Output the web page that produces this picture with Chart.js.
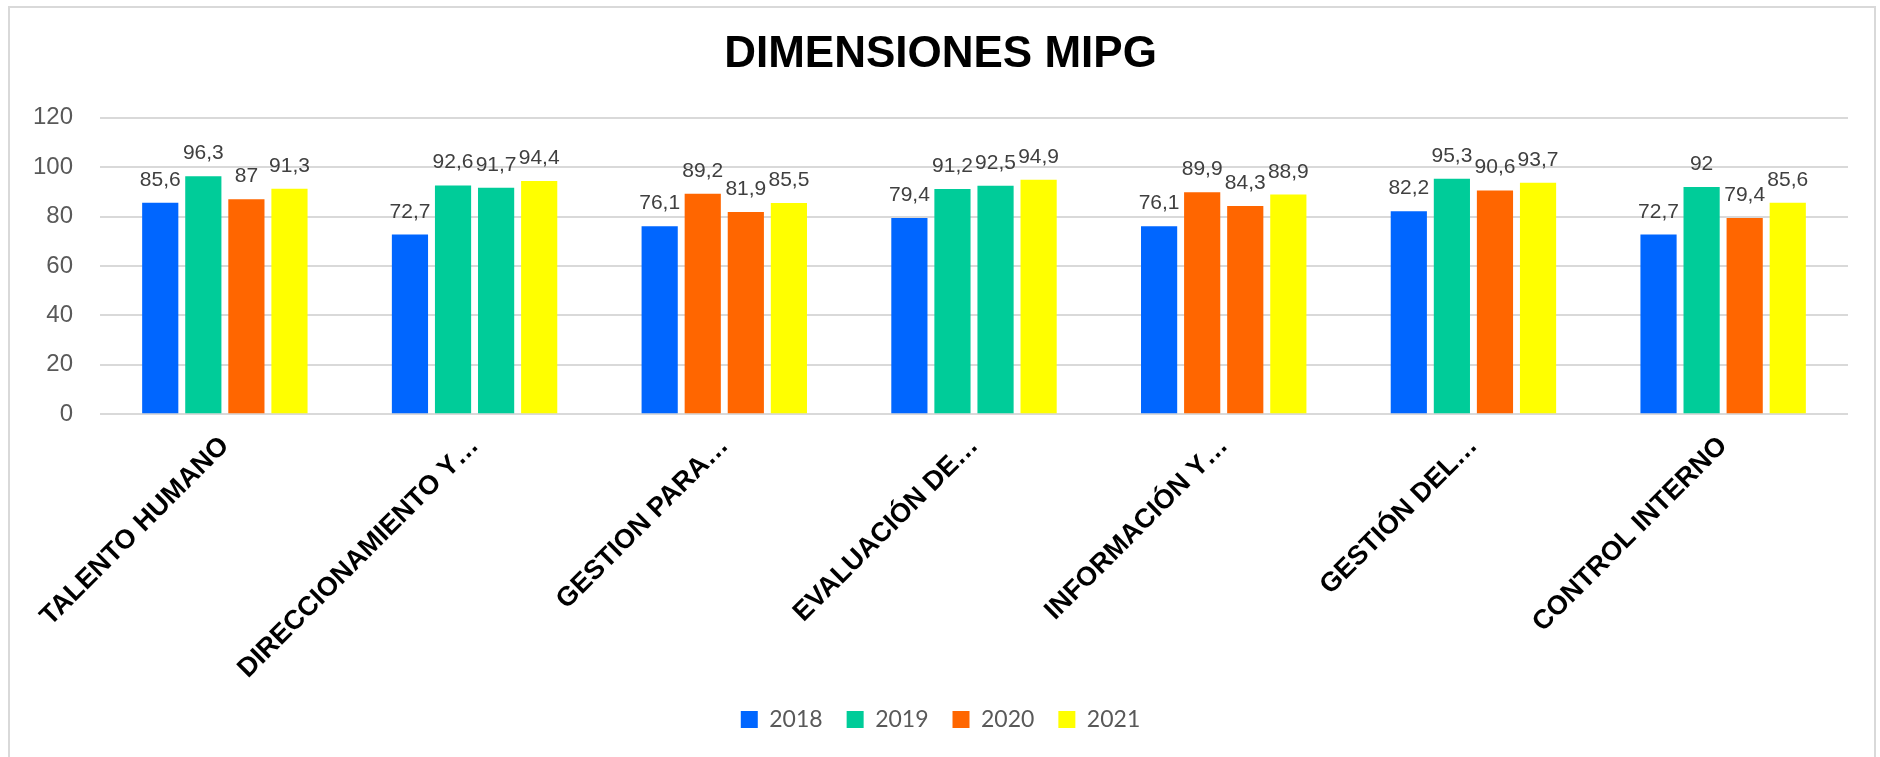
<!DOCTYPE html>
<html>
<head>
<meta charset="utf-8">
<title>DIMENSIONES MIPG</title>
<script src="https://cdn.jsdelivr.net/npm/chart.js@4"></script>
<style>
  body { margin: 0; background: #fff; }
  canvas { display: block; }
</style>
</head>
<body>
<canvas id="myChart" width="1880" height="757"></canvas>
<script>
'use strict';

// data
const categories = [
  'TALENTO HUMANO',
  'DIRECCIONAMIENTO Y…',
  'GESTION PARA…',
  'EVALUACIÓN DE…',
  'INFORMACIÓN Y…',
  'GESTIÓN DEL…',
  'CONTROL INTERNO'
];
const years = ['2018', '2019', '2020', '2021'];
const values2018 = [85.6, 72.7, 76.1, 79.4, 76.1, 82.2, 72.7];
const values2019 = [96.3, 92.6, 89.2, 91.2, 89.9, 95.3, 92];
const values2020 = [87, 91.7, 81.9, 92.5, 84.3, 90.6, 79.4];
const values2021 = [91.3, 94.4, 85.5, 94.9, 88.9, 93.7, 85.6];
const yTicks = [0, 20, 40, 60, 80, 100, 120];

const BLUE = '#0066FF';
const GREEN = '#00CC99';
const ORANGE = '#FF6600';
const YELLOW = '#FFFF00';

// the original colours some bars differently from their legend swatch
const colors2018 = [BLUE, BLUE, BLUE, BLUE, BLUE, BLUE, BLUE];
const colors2019 = [GREEN, GREEN, ORANGE, GREEN, ORANGE, GREEN, GREEN];
const colors2020 = [ORANGE, GREEN, ORANGE, GREEN, ORANGE, ORANGE, ORANGE];
const colors2021 = [YELLOW, YELLOW, YELLOW, YELLOW, YELLOW, YELLOW, YELLOW];
const legendColors = [BLUE, GREEN, ORANGE, YELLOW];

const allValues = [values2018, values2019, values2020, values2021];
const allColors = [colors2018, colors2019, colors2020, colors2021];

const datasets = [];
for (let i = 0; i < years.length; i++) {
  datasets.push({
    label: years[i],
    data: allValues[i],
    backgroundColor: allColors[i],
    categoryPercentage: 0.69,
    barPercentage: 0.84
  });
}

// outer frame
const framePlugin = {
  id: 'frame',
  beforeDraw(chart) {
    const ctx = chart.ctx;
    ctx.save();
    ctx.strokeStyle = '#d9d9d9';
    ctx.lineWidth = 2;
    ctx.strokeRect(9, 7, 1866, 760);
    ctx.restore();
  }
};

// value labels above the bars, decimal comma
const valueLabels = {
  id: 'valueLabels',
  afterDatasetsDraw(chart) {
    const ctx = chart.ctx;
    ctx.save();
    ctx.font = '21px "Liberation Sans", Arial, sans-serif';
    ctx.fillStyle = '#404040';
    ctx.textAlign = 'center';
    ctx.textBaseline = 'alphabetic';
    chart.data.datasets.forEach(function(ds, i) {
      chart.getDatasetMeta(i).data.forEach(function(bar, j) {
        const txt = String(ds.data[j]).replace('.', ',');
        ctx.fillText(txt, bar.x, bar.y - 17);
      });
    });
    ctx.restore();
  }
};

let ctx = document.getElementById('myChart').getContext('2d');
let chart = new Chart(ctx, {
  type: 'bar',
  data: {
    labels: categories,
    datasets: datasets
  },
  plugins: [framePlugin, valueLabels],
  options: {
    responsive: false,
    animation: false,
    layout: {
      padding: { left: 33, right: 32, top: 0, bottom: 16 }
    },
    plugins: {
      title: {
        display: true,
        text: 'DIMENSIONES MIPG',
        color: '#000',
        font: { family: '"Liberation Sans", Arial, sans-serif', size: 44, weight: 'bold' },
        padding: { top: 28, bottom: 37 }
      },
      legend: {
        position: 'bottom',
        labels: {
          color: '#595959',
          font: { family: 'Lato, "Open Sans", sans-serif', size: 23 },
          boxWidth: 17,
          boxHeight: 17,
          padding: 24,
          generateLabels: function(c) {
            return years.map(function(y, i) {
              return {
                text: y,
                fillStyle: legendColors[i],
                strokeStyle: legendColors[i],
                lineWidth: 0,
                datasetIndex: i,
                fontColor: '#595959'
              };
            });
          }
        }
      },
      tooltip: { enabled: false }
    },
    scales: {
      x: {
        grid: { display: false },
        border: { display: false },
        // keep the long rotated first label from pushing the plot to the right
        afterFit: function(scale) {
          scale.paddingLeft = 0;
          scale.paddingRight = 0;
          scale.height -= 9;
        },
        ticks: {
          color: '#000',
          autoSkip: false,
          minRotation: 45,
          maxRotation: 45,
          padding: 8,
          font: { family: '"Liberation Sans", Arial, sans-serif', size: 27, weight: 'bold' }
        }
      },
      y: {
        min: 0,
        max: 120,
        afterBuildTicks: function(axis) {
          axis.ticks = yTicks.map(function(v) { return { value: v }; });
        },
        afterFit: function(scale) {
          scale.width = 67;
        },
        grid: { color: '#d9d9d9', lineWidth: 2, drawTicks: false },
        border: { display: false },
        ticks: {
          color: '#595959',
          padding: 27,
          font: { family: '"Liberation Sans", Arial, sans-serif', size: 24 }
        }
      }
    }
  }
});
</script>
</body>
</html>
